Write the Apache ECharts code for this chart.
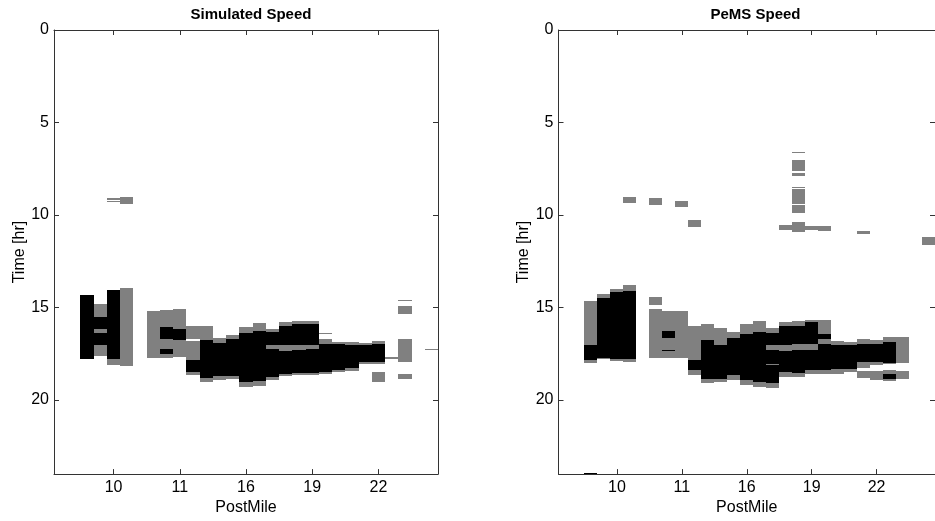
<!DOCTYPE html>
<html>
<head>
<meta charset="utf-8">
<script src="https://cdn.jsdelivr.net/npm/echarts@6/dist/echarts.min.js"></script>
<style>
  html, body { margin: 0; padding: 0; background: #fff; }
  #chart { width: 935px; height: 521px; }
</style>
</head>
<body>
<div id="chart"></div>
<script>
// Detector columns along the freeway; every fifth one carries its PostMile label.
const postMileTicks = [5, 10, 15, 20, 25];
const postMileLabels = ['10', '11', '16', '19', '22'];
const timeTicks = [0, 5, 10, 15, 20];

// Speed class per detector and time span: [column, startHour, endHour, level]
// level 1 = slowed (gray), level 2 = congested (black)
const simCells = [
  [3, 14.3, 17.78, 2],
  [4, 14.82, 15.52, 1], [4, 15.52, 16.15, 2], [4, 16.15, 16.36, 1], [4, 16.36, 17.04, 2], [4, 17.04, 17.6, 1],
  [5, 9.1, 9.17, 1], [5, 9.22, 9.28, 1], [5, 14.05, 17.78, 2], [5, 17.78, 18.12, 1],
  [6, 9.05, 9.42, 1], [6, 13.95, 18.17, 1],
  [8, 15.2, 17.72, 1],
  [9, 15.15, 16.06, 1], [9, 16.06, 16.7, 2], [9, 16.7, 17.24, 1], [9, 17.24, 17.52, 2], [9, 17.52, 17.7, 1],
  [10, 15.1, 16.15, 1], [10, 16.15, 16.78, 2], [10, 16.78, 17.68, 1],
  [11, 15.97, 16.72, 1], [11, 16.8, 17.85, 1], [11, 17.85, 18.46, 2], [11, 18.46, 18.65, 1],
  [12, 15.97, 16.78, 1], [12, 16.78, 18.78, 2], [12, 18.78, 19.0, 1],
  [13, 16.65, 16.9, 1], [13, 16.9, 18.72, 2], [13, 18.72, 18.9, 1],
  [14, 16.48, 16.7, 1], [14, 16.7, 18.72, 2], [14, 18.72, 18.88, 1],
  [15, 16.06, 16.38, 1], [15, 16.38, 19.0, 2], [15, 19.0, 19.28, 1],
  [16, 15.83, 16.24, 1], [16, 16.24, 18.98, 2], [16, 18.98, 19.22, 1],
  [17, 16.15, 16.33, 1], [17, 16.33, 17.02, 2], [17, 17.02, 17.26, 1], [17, 17.26, 18.75, 2], [17, 18.75, 18.92, 1],
  [18, 15.8, 15.97, 1], [18, 15.97, 17.02, 2], [18, 17.02, 17.36, 1], [18, 17.36, 18.58, 2], [18, 18.58, 18.68, 1],
  [19, 15.73, 15.91, 1], [19, 15.91, 17.02, 2], [19, 17.02, 17.31, 1], [19, 17.31, 18.54, 2], [19, 18.54, 18.62, 1],
  [20, 15.7, 15.88, 1], [20, 15.88, 17.04, 2], [20, 17.04, 17.22, 1], [20, 17.22, 18.55, 2], [20, 18.55, 18.65, 1],
  [21, 16.38, 16.45, 1], [21, 16.69, 16.99, 1], [21, 16.99, 18.48, 2], [21, 18.48, 18.58, 1],
  [22, 16.86, 16.99, 1], [22, 16.99, 18.4, 2], [22, 18.4, 18.5, 1],
  [23, 16.86, 17.0, 1], [23, 17.0, 18.28, 2], [23, 18.28, 18.44, 1],
  [24, 16.9, 17.0, 1], [24, 17.0, 17.94, 2], [24, 17.94, 18.06, 1],
  [25, 16.81, 16.95, 1], [25, 16.95, 17.94, 2], [25, 17.94, 18.03, 1], [25, 18.48, 19.0, 1],
  [26, 17.67, 17.8, 1],
  [27, 14.57, 14.63, 1], [27, 14.89, 15.36, 1], [27, 16.69, 17.94, 1], [27, 18.6, 18.84, 1],
  [29, 17.25, 17.31, 1]
];

const pemsCells = [
  [3, 14.62, 17.04, 1], [3, 17.04, 17.85, 2], [3, 17.85, 17.98, 1], [3, 23.95, 24.0, 2],
  [4, 14.26, 14.5, 1], [4, 14.5, 17.7, 2], [4, 17.7, 17.8, 1],
  [5, 14.0, 14.17, 1], [5, 14.17, 17.76, 2], [5, 17.76, 17.88, 1],
  [6, 9.0, 9.37, 1], [6, 13.78, 14.08, 1], [6, 14.08, 17.8, 2], [6, 17.8, 17.93, 1],
  [8, 9.09, 9.46, 1], [8, 14.44, 14.85, 1], [8, 15.1, 17.71, 1],
  [9, 15.16, 16.24, 1], [9, 16.24, 16.63, 2], [9, 16.63, 17.31, 1], [9, 17.31, 17.36, 2], [9, 17.36, 17.71, 1],
  [10, 9.22, 9.58, 1], [10, 15.16, 17.71, 1],
  [11, 10.26, 10.67, 1], [11, 15.97, 17.85, 1], [11, 17.85, 18.39, 2], [11, 18.39, 18.66, 1],
  [12, 15.88, 16.74, 1], [12, 16.74, 18.84, 2], [12, 18.84, 19.05, 1],
  [13, 16.11, 17.04, 1], [13, 17.04, 18.84, 2], [13, 18.84, 19.02, 1],
  [14, 16.33, 16.65, 1], [14, 16.65, 18.66, 2], [14, 18.66, 18.93, 1],
  [15, 15.88, 16.42, 1], [15, 16.42, 18.93, 2], [15, 18.93, 19.16, 1],
  [16, 15.75, 16.33, 1], [16, 16.33, 19.02, 2], [16, 19.02, 19.29, 1],
  [17, 16.11, 16.36, 1], [17, 16.36, 17.01, 2], [17, 17.01, 17.31, 1], [17, 17.31, 18.03, 2],
  [17, 18.03, 18.08, 1], [17, 18.08, 19.1, 2], [17, 19.1, 19.34, 1],
  [18, 10.55, 10.8, 1], [18, 15.79, 16.02, 1], [18, 16.02, 17.01, 2], [18, 17.01, 17.37, 1],
  [18, 17.37, 18.5, 2], [18, 18.5, 18.75, 1],
  [19, 6.57, 6.64, 1], [19, 7.0, 7.62, 1], [19, 7.73, 7.91, 1], [19, 8.5, 8.55, 1], [19, 8.58, 9.4, 1],
  [19, 9.47, 9.87, 1], [19, 10.4, 10.94, 1], [19, 15.7, 15.97, 1], [19, 15.97, 16.96, 2],
  [19, 16.96, 17.28, 1], [19, 17.28, 18.53, 2], [19, 18.53, 18.75, 1],
  [20, 10.6, 10.8, 1], [20, 15.66, 15.8, 1], [20, 15.8, 16.95, 2], [20, 16.95, 17.28, 1],
  [20, 17.28, 18.4, 2], [20, 18.4, 18.6, 1],
  [21, 10.57, 10.87, 1], [21, 15.66, 16.42, 1], [21, 16.42, 16.72, 2], [21, 16.72, 16.98, 1],
  [21, 16.98, 18.4, 2], [21, 18.4, 18.6, 1],
  [22, 16.83, 17.0, 1], [22, 17.0, 18.33, 2], [22, 18.33, 18.57, 1],
  [23, 16.85, 17.0, 1], [23, 17.0, 18.3, 2], [23, 18.3, 18.5, 1],
  [24, 10.85, 11.05, 1], [24, 16.72, 16.95, 1], [24, 16.95, 17.94, 2], [24, 17.94, 18.26, 1], [24, 18.44, 18.8, 1],
  [25, 16.75, 16.95, 1], [25, 16.95, 17.94, 2], [25, 17.94, 18.1, 1], [25, 18.44, 18.9, 1],
  [26, 16.6, 16.87, 1], [26, 16.87, 17.97, 2], [26, 17.97, 18.05, 1], [26, 18.39, 18.57, 1],
  [26, 18.57, 18.87, 2], [26, 18.87, 18.97, 1],
  [27, 16.6, 18.0, 1], [27, 18.44, 18.84, 1],
  [29, 11.16, 11.63, 1]
];

const panelTitles = ['Simulated Speed', 'PeMS Speed'];
const levelColors = { 1: '#808080', 2: '#000000' };

const FONT = '"Liberation Sans", Arial, Helvetica, sans-serif';
const AXIS_COLOR = '#333333';
const grids = [
  { left: 54, top: 30, width: 384, height: 446 },
  { left: 558.5, top: 30, width: 384, height: 446 }
];

function postMileLabel(v) {
  const i = postMileTicks.indexOf(Math.round(v));
  return i >= 0 ? postMileLabels[i] : '';
}

// Cells are snapped to whole pixels so neighbouring cells meet without seams.
function renderCell(params, api) {
  const col = api.value(0);
  const a = api.coord([col - 0.5, api.value(1)]);
  const b = api.coord([col + 0.5, api.value(2)]);
  const x0 = Math.round(Math.min(a[0], b[0]));
  const x1 = Math.round(Math.max(a[0], b[0]));
  const y0 = Math.round(Math.min(a[1], b[1]));
  const y1 = Math.max(y0 + 1, Math.round(Math.max(a[1], b[1])));
  const cs = params.coordSys;
  const shape = echarts.graphic.clipRectByRect(
    { x: x0, y: y0, width: x1 - x0, height: y1 - y0 },
    { x: cs.x, y: cs.y, width: cs.width, height: cs.height }
  );
  if (!shape) return null;
  return { type: 'rect', shape: shape, style: { fill: levelColors[api.value(3)] } };
}

const xAxes = [], yAxes = [], series = [], titles = [];
[simCells, pemsCells].forEach(function (cells, i) {
  const line = { show: true, onZero: false, lineStyle: { color: AXIS_COLOR, width: 1 } };
  const tick = { show: true, inside: true, length: 5, lineStyle: { color: AXIS_COLOR, width: 1 } };
  xAxes.push({
    gridIndex: i, type: 'value', position: 'bottom', min: 0.5, max: 29.5,
    axisLine: line,
    axisTick: Object.assign({ customValues: postMileTicks }, tick),
    axisLabel: { customValues: postMileTicks, formatter: postMileLabel, margin: 5,
                 fontSize: 16, color: '#000', fontFamily: FONT },
    splitLine: { show: false },
    name: 'PostMile', nameLocation: 'middle', nameGap: 23,
    nameTextStyle: { fontSize: 16, color: '#000', fontFamily: FONT }
  });
  xAxes.push({
    gridIndex: i, type: 'value', position: 'top', min: 0.5, max: 29.5,
    axisLine: line,
    axisTick: Object.assign({ customValues: postMileTicks }, tick),
    axisLabel: { show: false }, splitLine: { show: false }
  });
  yAxes.push({
    gridIndex: i, type: 'value', position: 'left', inverse: true, min: 0, max: 24,
    axisLine: line,
    axisTick: Object.assign({ customValues: timeTicks }, tick),
    axisLabel: { customValues: timeTicks, margin: 5, fontSize: 16, color: '#000', fontFamily: FONT },
    splitLine: { show: false },
    name: 'Time [hr]', nameLocation: 'middle', nameGap: 26, nameRotate: 90,
    nameTextStyle: { fontSize: 16, color: '#000', fontFamily: FONT }
  });
  yAxes.push({
    gridIndex: i, type: 'value', position: 'right', inverse: true, min: 0, max: 24,
    axisLine: line,
    axisTick: Object.assign({ customValues: timeTicks }, tick),
    axisLabel: { show: false }, splitLine: { show: false }
  });
  series.push({
    type: 'custom', xAxisIndex: 2 * i, yAxisIndex: 2 * i,
    renderItem: renderCell, data: cells,
    encode: { x: 0, y: [1, 2] }, silent: true, animation: false
  });
  titles.push({
    text: panelTitles[i], left: grids[i].left + grids[i].width / 2, top: 2, textAlign: 'center',
    textStyle: { fontSize: 15, fontWeight: 'bold', color: '#000', fontFamily: FONT }
  });
});

const chart = echarts.init(document.getElementById('chart'), null, { renderer: 'canvas' });
chart.setOption({
  backgroundColor: '#ffffff',
  animation: false,
  title: titles,
  grid: grids,
  xAxis: xAxes,
  yAxis: yAxes,
  series: series
});
</script>
</body>
</html>
